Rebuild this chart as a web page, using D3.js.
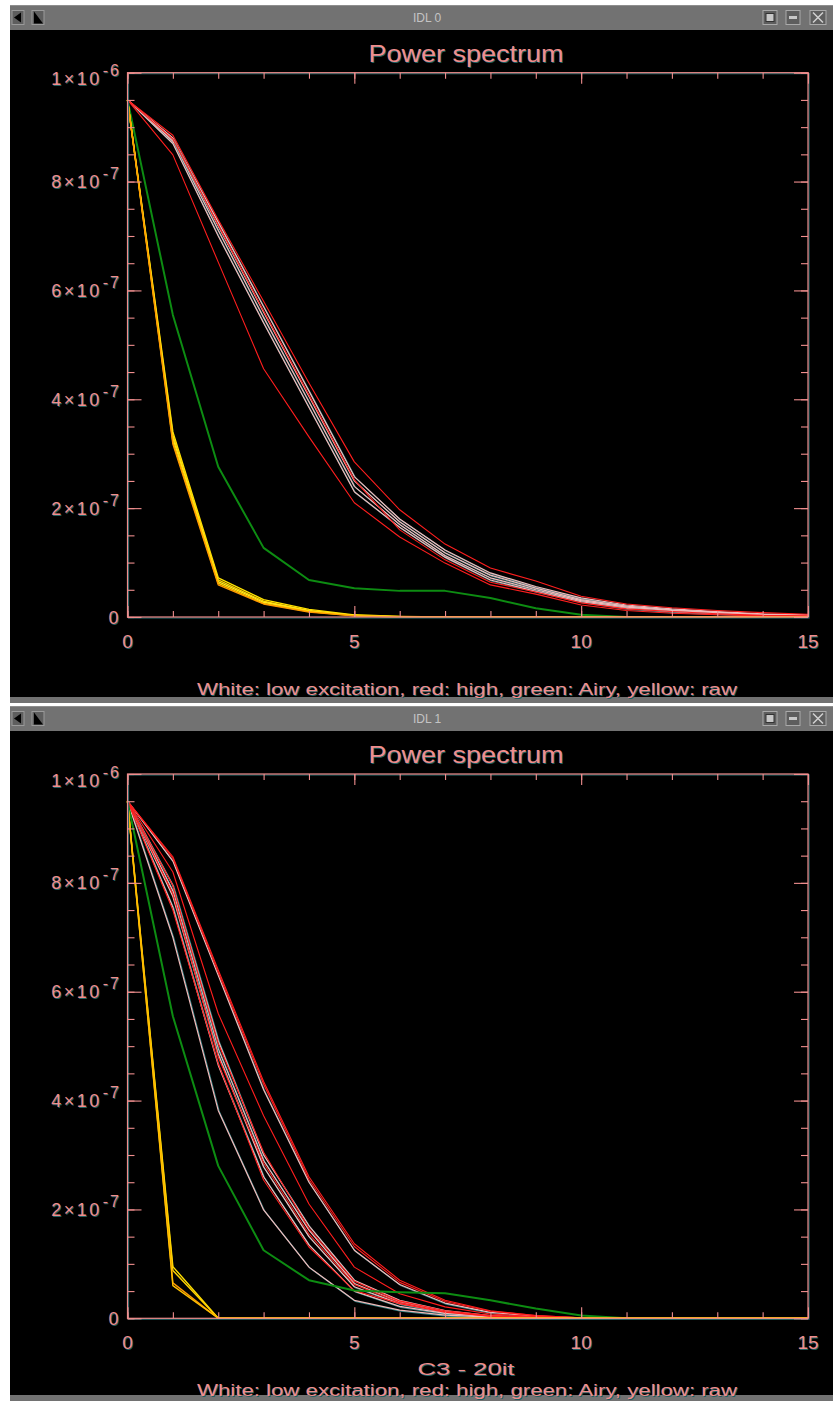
<!DOCTYPE html>
<html><head><meta charset="utf-8">
<script src="https://cdn.jsdelivr.net/npm/d3@7"></script>
<style>html,body{margin:0;padding:0;background:#fff;} svg{display:block}</style>
</head><body><svg id="c" width="833" height="1401"></svg>
<script>
// ---------- data (values in units of 1e-7) ----------
const xValues = [0,1,2,3,4,5,6,7,8,9,10,11,12,13,14,15];
const xMajorTicks = [0,5,10,15];
const xMinorTicks = [0,1,2,3,4,5,6,7,8,9,10,11,12,13,14,15];
const yMajorTicks = [0,2e-7,4e-7,6e-7,8e-7,1e-6];
const yMinorTicks = [0,0.5e-7,1e-7,1.5e-7,2e-7,2.5e-7,3e-7,3.5e-7,4e-7,4.5e-7,5e-7,5.5e-7,6e-7,6.5e-7,7e-7,7.5e-7,8e-7,8.5e-7,9e-7,9.5e-7,1e-6];
const yTickMantissa = ["0","2\u00d710","4\u00d710","6\u00d710","8\u00d710","1\u00d710"];
const yTickExponent = ["","-7","-7","-7","-7","-6"];
const plotTitle = "Power spectrum";
const captionText = "White: low excitation, red: high, green: Airy, yellow: raw";
const windowLabels = ["IDL 0","IDL 1"];
const subTitles = ["", "C3 - 20it"];

const topWhite = [
 [9.5,8.80,7.25,5.70,4.15,2.58,1.80,1.23,0.81,0.56,0.35,0.22,0.15,0.10,0.06,0.04],
 [9.5,8.77,7.18,5.60,4.05,2.50,1.75,1.18,0.77,0.53,0.32,0.20,0.13,0.09,0.05,0.03],
 [9.5,8.74,7.10,5.50,3.95,2.40,1.70,1.13,0.72,0.50,0.30,0.18,0.12,0.08,0.04,0.02],
 [9.5,8.70,7.00,5.40,3.85,2.30,1.65,1.10,0.68,0.47,0.28,0.16,0.10,0.06,0.03,0.02]
];
const topRed = [
 [9.5,8.85,7.30,5.80,4.30,2.85,1.97,1.34,0.90,0.66,0.38,0.24,0.17,0.12,0.08,0.05],
 [9.5,8.78,7.20,5.62,4.08,2.52,1.60,1.05,0.64,0.46,0.26,0.15,0.10,0.06,0.03,0.02],
 [9.5,8.49,6.52,4.56,3.31,2.10,1.47,0.99,0.59,0.42,0.22,0.12,0.07,0.04,0.02,0.01]
];
const topGreen = [
 [9.5,5.55,2.76,1.27,0.68,0.53,0.48,0.48,0.35,0.16,0.04,0,0,0,0,0]
];
const topYellow = [
 [9.5,3.40,0.72,0.32,0.14,0.04,0.01,0,0,0,0,0,0,0,0,0],
 [9.5,3.34,0.68,0.29,0.12,0.03,0.01,0,0,0,0,0,0,0,0,0],
 [9.5,3.28,0.65,0.27,0.11,0.03,0,0,0,0,0,0,0,0,0,0],
 [9.5,3.22,0.62,0.25,0.10,0.02,0,0,0,0,0,0,0,0,0,0],
 [9.5,3.18,0.59,0.24,0.09,0.02,0,0,0,0,0,0,0,0,0,0]
];

const botWhite = [
 [9.5,8.40,6.30,4.20,2.50,1.25,0.62,0.28,0.11,0.04,0.01,0,0,0,0,0],
 [9.5,7.95,5.10,3.00,1.70,0.70,0.33,0.14,0.05,0.02,0,0,0,0,0,0],
 [9.5,7.85,4.95,2.90,1.62,0.64,0.30,0.12,0.04,0.01,0,0,0,0,0,0],
 [9.5,7.75,4.85,2.78,1.50,0.58,0.27,0.11,0.04,0.01,0,0,0,0,0,0],
 [9.5,7.55,4.65,2.60,1.35,0.50,0.22,0.09,0.03,0.01,0,0,0,0,0,0],
 [9.5,7.00,3.82,1.99,0.94,0.33,0.15,0.06,0.02,0,0,0,0,0,0,0]
];
const botRed = [
 [9.5,8.48,6.40,4.35,2.60,1.37,0.70,0.33,0.14,0.05,0.01,0,0,0,0,0],
 [9.5,8.45,6.35,4.30,2.55,1.32,0.66,0.31,0.13,0.05,0.01,0,0,0,0,0],
 [9.5,8.20,5.60,3.72,2.10,0.94,0.45,0.21,0.08,0.03,0,0,0,0,0,0],
 [9.5,7.95,5.05,3.05,1.65,0.68,0.32,0.14,0.05,0.02,0,0,0,0,0,0],
 [9.5,7.80,4.80,2.85,1.55,0.62,0.29,0.12,0.04,0.01,0,0,0,0,0,0],
 [9.5,7.50,4.68,2.54,1.31,0.51,0.27,0.11,0.04,0.01,0,0,0,0,0,0]
];
const botGreen = [
 [9.5,5.55,2.80,1.25,0.70,0.51,0.48,0.46,0.33,0.18,0.05,0,0,0,0,0]
];
const botYellow = [
 [9.5,0.95,0,0,0,0,0,0,0,0,0,0,0,0,0,0],
 [9.5,0.88,0,0,0,0,0,0,0,0,0,0,0,0,0,0],
 [9.5,0.65,0,0,0,0,0,0,0,0,0,0,0,0,0,0],
 [9.5,0.60,0,0,0,0,0,0,0,0,0,0,0,0,0,0]
];
const UNIT = 1e-7;

// ---------- drawing ----------
const svg = d3.select("#c");
const FONT = "'Liberation Sans', Arial, sans-serif";
const PINK = "#f08e8e", TEAL = "#1f5f61";
const GRAY = "#727272";

function shadowText(g, x, y, txt, size, anchor, len) {
  [[1,1,TEAL],[0,0,PINK]].forEach(([dx,dy,col]) => {
    const t = g.append("text").attr("x", x+dx).attr("y", y+dy)
      .attr("font-family", FONT).attr("font-size", size)
      .attr("text-anchor", anchor).attr("fill", col).text(txt);
    if (len) t.attr("textLength", len).attr("lengthAdjust", "spacingAndGlyphs");
  });
}

function windowChrome(y0, contentTop, contentBottom, y1, label) {
  const g = svg.append("g");
  g.append("rect").attr("x",10).attr("y",y0).attr("width",823).attr("height",y1-y0).attr("fill",GRAY);
  g.append("line").attr("x1",10).attr("x2",833).attr("y1",y0+0.5).attr("y2",y0+0.5).attr("stroke","#8e8e8e");
  g.append("rect").attr("x",10).attr("y",contentTop).attr("width",823).attr("height",contentBottom-contentTop).attr("fill","#000");
  const cy = (y0 + contentTop)/2;
  g.append("text").attr("x",427).attr("y",cy+4.5).attr("text-anchor","middle")
    .attr("font-family",FONT).attr("font-size",12).attr("fill","#c4c4c4").text(label);
  // left buttons
  g.append("rect").attr("x",12).attr("y",cy-7).attr("width",12).attr("height",14).attr("fill","#5e5e5e").attr("stroke","#9a9a9a");
  g.append("path").attr("d",`M14,${cy} L21,${cy-5} L21,${cy+5}Z`).attr("fill","#000");
  g.append("rect").attr("x",32).attr("y",cy-7).attr("width",12).attr("height",14).attr("fill","#5e5e5e").attr("stroke","#9a9a9a");
  g.append("path").attr("d",`M34,${cy-6} L43,${cy+6} L34,${cy+6}Z`).attr("fill","#000");
  // right buttons
  g.append("rect").attr("x",763).attr("y",cy-7).attr("width",14).attr("height",14).attr("fill","#5e5e5e").attr("stroke","#aaa");
  g.append("rect").attr("x",766).attr("y",cy-4).attr("width",8).attr("height",8).attr("fill","#c8c8c8").attr("stroke","#333");
  g.append("rect").attr("x",786).attr("y",cy-7).attr("width",14).attr("height",14).attr("fill","#5e5e5e").attr("stroke","#aaa");
  g.append("rect").attr("x",789).attr("y",cy-1.5).attr("width",8).attr("height",3).attr("fill","#c8c8c8");
  g.append("rect").attr("x",810).attr("y",cy-7).attr("width",16).attr("height",14).attr("fill","#5e5e5e").attr("stroke","#aaa");
  g.append("path").attr("d",`M813,${cy-5} L823,${cy+5} M823,${cy-5} L813,${cy+5}`).attr("stroke","#d0d0d0").attr("stroke-width",1.5);
}

function drawPlot(dy, series, sub) {
  const left = 127.5, right = 808, top = 72.7 + dy, bottom = 617 + dy;
  const x = d3.scaleLinear().domain([0,15]).range([left,right]);
  const y = d3.scaleLinear().domain([0,1e-6]).range([bottom,top]);
  const g = svg.append("g");

  const line = d3.line().x((d,i) => x(xValues[i])).y(d => y(d*UNIT));

  // series
  series.forEach(s => {
    s.data.forEach((arr, k) => {
      if (s.shadow) {
        g.append("path").datum(arr).attr("d", line).attr("fill","none")
          .attr("stroke", "#2b7c7e").attr("stroke-width", s.width).attr("transform","translate(1,1)");
      }
      g.append("path").datum(arr).attr("d", line).attr("fill","none")
        .attr("stroke", s.colors ? s.colors[k % s.colors.length] : s.color)
        .attr("stroke-width", s.width).attr("stroke-linejoin","round");
    });
  });

  // frame with shadow
  [[1,TEAL],[0,PINK]].forEach(([o,col]) => {
    g.append("rect").attr("x",left+o).attr("y",top+o).attr("width",right-left).attr("height",bottom-top)
      .attr("fill","none").attr("stroke",col).attr("stroke-width",1.2);
  });
  // ticks
  const a = g.append("g");
  const mk = (axis, tr) => {
    const ag = a.append("g").attr("transform", tr).call(axis);
    ag.select(".domain").remove();
    ag.selectAll("line").attr("stroke", PINK).attr("stroke-width",1.1);
    ag.selectAll("text").remove();
  };
  mk(d3.axisBottom(x).tickValues(xMinorTicks).tickSize(-6).tickFormat(""), `translate(0,${bottom})`);
  mk(d3.axisBottom(x).tickValues(xMajorTicks).tickSize(-11).tickFormat(""), `translate(0,${bottom})`);
  mk(d3.axisTop(x).tickValues(xMinorTicks).tickSize(-6).tickFormat(""), `translate(0,${top})`);
  mk(d3.axisTop(x).tickValues(xMajorTicks).tickSize(-11).tickFormat(""), `translate(0,${top})`);
  mk(d3.axisLeft(y).tickValues(yMinorTicks).tickSize(-7).tickFormat(""), `translate(${left},0)`);
  mk(d3.axisLeft(y).tickValues(yMajorTicks).tickSize(-14).tickFormat(""), `translate(${left},0)`);
  mk(d3.axisRight(y).tickValues(yMinorTicks).tickSize(-7).tickFormat(""), `translate(${right},0)`);
  mk(d3.axisRight(y).tickValues(yMajorTicks).tickSize(-14).tickFormat(""), `translate(${right},0)`);

  // x tick labels
  xMajorTicks.forEach(v => shadowText(g, x(v), bottom + 31, String(v), 19, "middle"));

  // y tick labels
  yMajorTicks.forEach((v, i) => {
    const ty = y(v) + (i === yMajorTicks.length - 1 ? 6 : 0);
    [[1,TEAL],[0,PINK]].forEach(([o,col]) => {
      const t = g.append("text").attr("x", 121 + o).attr("y", ty + 6.5 + o)
        .attr("text-anchor","end").attr("font-family",FONT).attr("fill",col);
      t.append("tspan").attr("font-size",18).attr("letter-spacing",2.5).text(yTickMantissa[i]);
      if (yTickExponent[i]) t.append("tspan").attr("font-size",16).attr("letter-spacing",2).attr("dy",-9).attr("dx",1).text(yTickExponent[i]);
    });
  });

  // title
  shadowText(g, 466, top - 11, plotTitle, 23, "middle", 195);
  if (sub) shadowText(g, 466, bottom + 57, sub, 17, "middle", 97);
  shadowText(g, 467, bottom + 78, captionText, 16, "middle", 540);
}

windowChrome(5, 30, 697, 703, windowLabels[0]);
windowChrome(706, 731, 1395, 1401, windowLabels[1]);

drawPlot(0, [
  {data: topWhite, color: "#f2baba", width: 1.2, shadow: true},
  {data: topRed, color: "#ff1e1e", width: 1.1},
  {data: topGreen, color: "#0d8c12", width: 2},
  {data: topYellow, colors: ["#ffe400","#ffd000","#ffec20","#ffc800","#ff9a00"], width: 1.4}
], subTitles[0]);

drawPlot(701.3, [
  {data: botWhite, color: "#f2baba", width: 1.2, shadow: true},
  {data: botRed, color: "#ff1e1e", width: 1.1},
  {data: botGreen, color: "#0d8c12", width: 2},
  {data: botYellow, colors: ["#ffe000","#ffd200","#ff9a00","#ffc000"], width: 1.4}
], subTitles[1]);
</script>
</body></html>
